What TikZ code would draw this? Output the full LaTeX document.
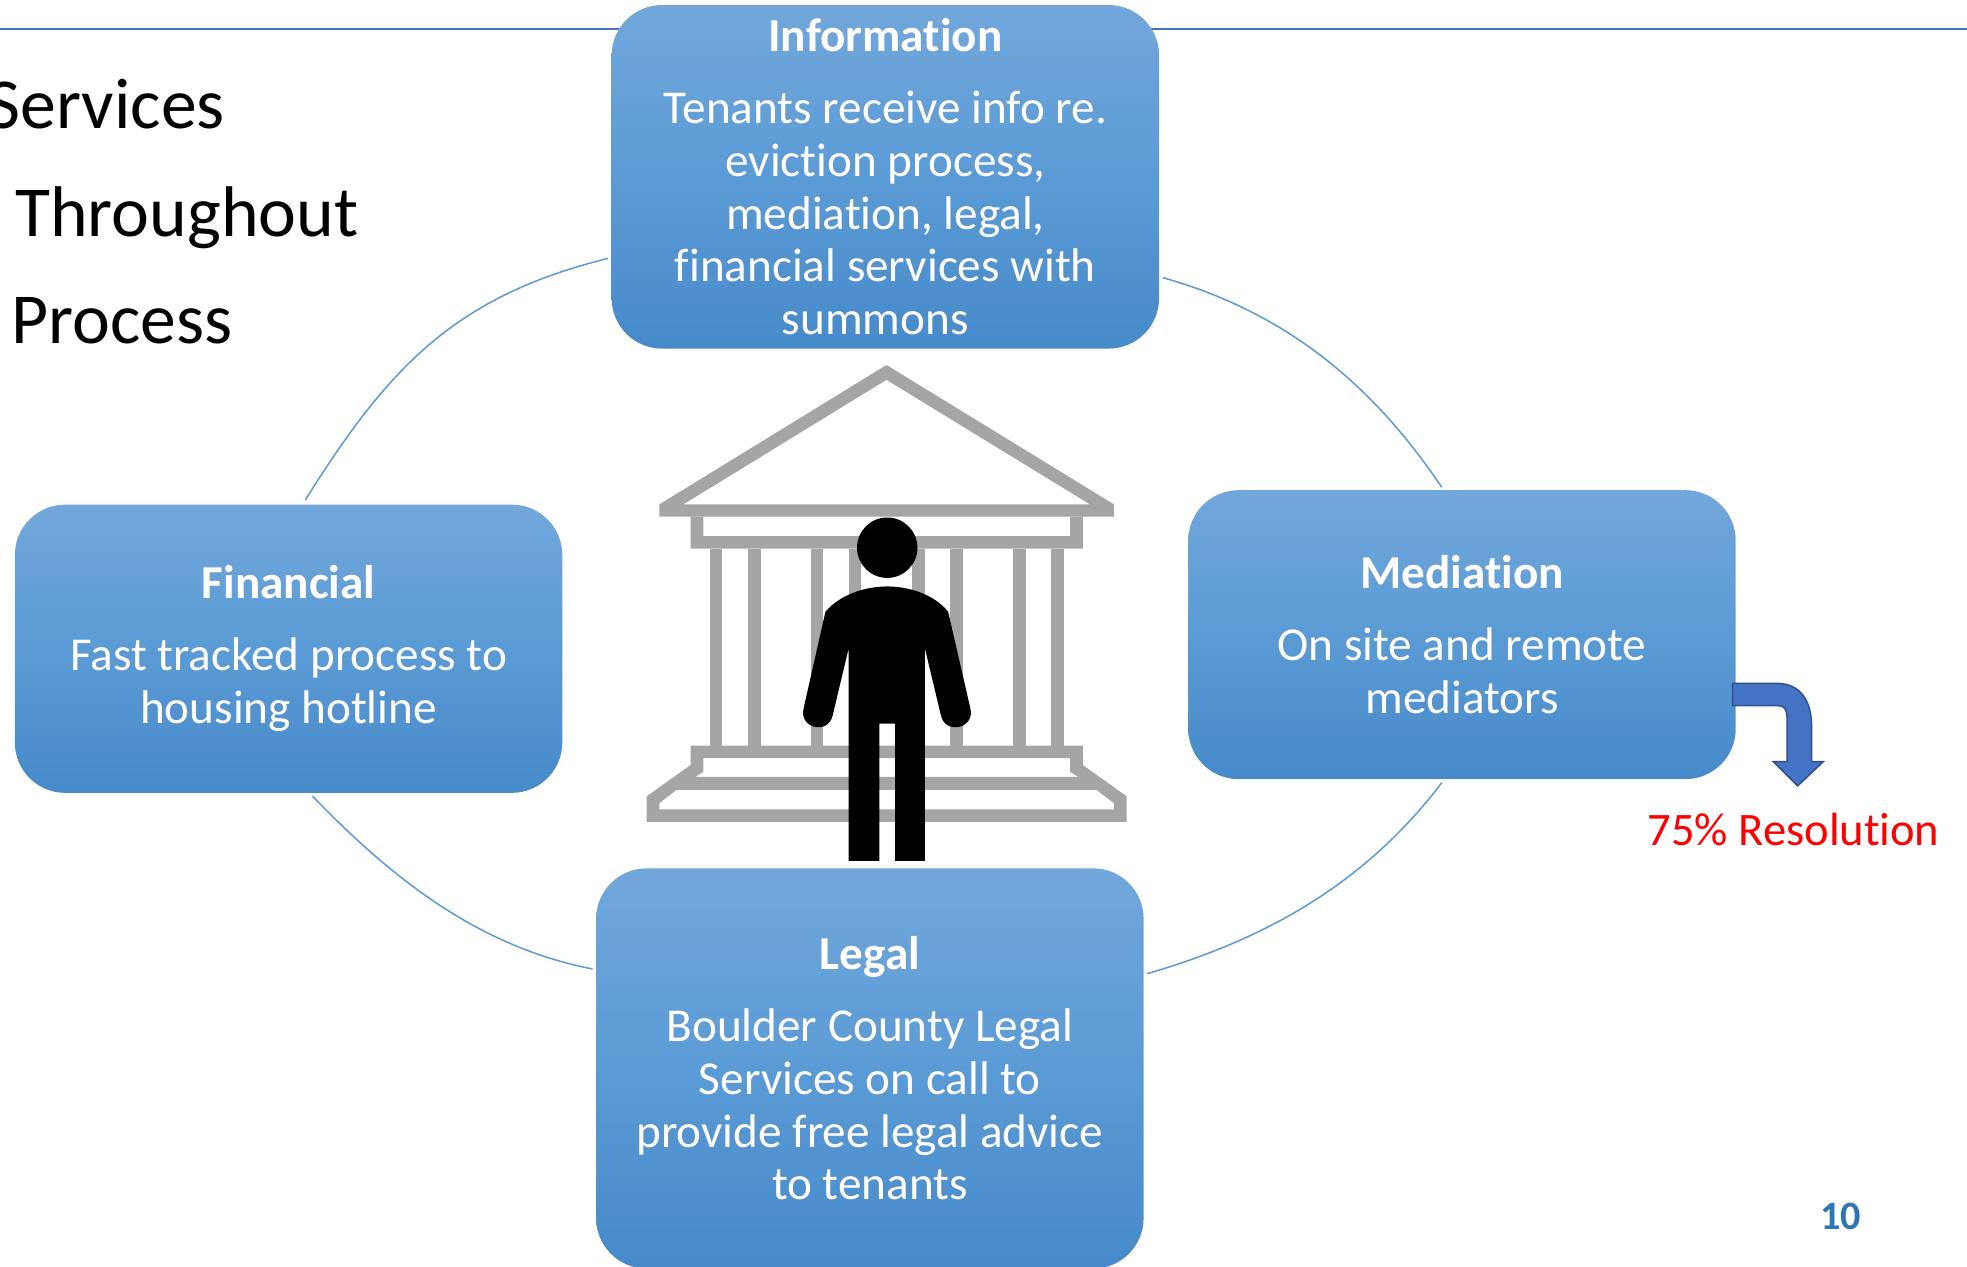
\documentclass[tikz,border=0pt]{standalone}
\usepackage{fontspec}
\setmainfont{Carlito}[Ligatures={NoCommon,NoContextual}]
\definecolor{boxtop}{RGB}{114,167,219}
\definecolor{boxmid}{RGB}{91,155,213}
\definecolor{boxbot}{RGB}{71,138,201}
\definecolor{ringblue}{RGB}{91,155,213}
\definecolor{ruleblue}{RGB}{68,114,196}
\definecolor{bldgray}{RGB}{165,165,165}
\definecolor{arrowfill}{RGB}{68,114,196}
\definecolor{arrowedge}{RGB}{47,82,143}
\definecolor{pageblue}{RGB}{46,117,182}
\begin{document}
\begin{tikzpicture}[x=1pt,y=-1pt,
  card/.style={rounded corners=40pt, top color=boxtop, bottom color=boxbot, middle color=boxmid,
    draw=none, text=white, align=center, inner sep=0pt, minimum width=435pt,
    font=\fontsize{37.5}{42}\selectfont},
  ring/.style={draw=ringblue, line width=1.2pt},
  sidetext/.style={anchor=base west, inner sep=0pt, font=\fontsize{57}{68}\selectfont},
  bld/.style={fill=bldgray, even odd rule},
]
\path[use as bounding box, clip] (0,0) rectangle (1563,1006);

% top rule
\coordinate (ruleL) at (0,23);
\coordinate (ruleR) at (1563,23);
\draw[ruleblue, line width=2.2pt] (ruleL) -- (ruleR);

% ring arcs
\coordinate (a1s) at (242.6,397.3);
\coordinate (a1e) at (483.2,205.3);
\coordinate (a2s) at (923.9,220.6);
\coordinate (a2e) at (1145.6,387.2);
\coordinate (a3s) at (1145.7,621.9);
\coordinate (a3e) at (911.5,773.7);
\coordinate (a4s) at (248.2,632.5);
\coordinate (a4e) at (470.9,770);
\draw[ring] (a1s) .. controls (308.9,291.3) and (361.9,235.3) .. (a1e);
\draw[ring] (a2s) .. controls (1020.2,247.6) and (1089.9,304.2) .. (a2e);
\draw[ring] (a3s) .. controls (1085.1,701.4) and (1007.5,745.8) .. (a3e);
\draw[ring] (a4s) .. controls (312,698.7) and (380.6,752.3) .. (a4e);

% boxes
\node[card, minimum height=273pt] (info) at (703.5,140.5)
  {\textbf{Information}\\[15pt]Tenants receive info re.\\eviction process,\\mediation, legal,\\financial services with\\summons\hspace*{16pt}};
\node[card, minimum height=229pt] (fin) at (229.3,515.5)
  {\textbf{Financial}\\[15pt]Fast tracked process to\\housing hotline};
\node[card, minimum height=229.6pt] (med) at (1161.7,504.3)
  {\textbf{Mediation}\\[15pt]On site and remote\\mediators};
\node[card, minimum height=318pt] (legal) at (691.2,849)
  {\textbf{Legal}\\[15pt]Boulder County Legal\\Services on call to\\provide free legal advice\\to tenants};

% building
\fill[bld] (704.4,290) -- (885.2,400.8) -- (885.2,410.5) -- (523.9,410.5) -- (523.9,400.8) -- cycle
  (704.4,301.8) -- (866.1,400.8) -- (543.0,400.8) -- cycle;
\fill[bld] (548.7,410.5) rectangle (860.4,436.0) (558.9,410.5) rectangle (850.4,426.1);
\foreach \cx in {563.8,594.3,644.2,674.4,724.9,754.9,805.3,835.3}
  \fill[bldgray] (\cx,436) rectangle ++(10,156.5);
\fill[bld] (548.7,592.5) -- (860.4,592.5) -- (860.4,607.9) -- (895.2,632.7) -- (895.2,653.0)
  -- (513.9,653.0) -- (513.9,632.7) -- (548.7,607.9) -- cycle
  (558.9,602.4) -- (850.4,602.4) -- (850.4,613.4) -- (856.7,617.3) -- (552.4,617.3) -- (558.9,613.4) -- cycle
  (537.5,627.7) -- (871.2,627.7) -- (885.2,638.2) -- (885.2,643.1) -- (523.9,643.1) -- (523.9,638.2) -- cycle;

% person
\fill[black] (674.4,684.1) -- (674.4,515) -- (661.6,568.6)
  .. controls (657.9,584.2) and (634.8,578.7) .. (638.5,563.1)
  -- (655.9,486.1) .. controls (668,472) and (688,466) .. (705,466)
  .. controls (722,466) and (742,472) .. (753.4,486.1)
  -- (771.1,563.1) .. controls (774.8,578.7) and (751.4,584.2) .. (747.7,568.6)
  -- (734.9,515) -- (734.9,684.1) -- (711.2,684.1) -- (711.2,574.9) -- (698.7,574.9)
  -- (698.7,684.1) -- cycle;
\fill[black] (705,435.2) circle (24pt);

% bent arrow
\filldraw[fill=arrowfill, draw=arrowedge, line width=1.2pt]
  (1376.8,543) -- (1411.7,543) .. controls (1430,543) and (1439.5,556) .. (1439.5,577.4)
  -- (1439.5,605.2) -- (1448.8,605.2) -- (1428.4,624.5) -- (1409.1,605.2) -- (1420,605.2)
  -- (1420,570.8) .. controls (1420,564) and (1418,560.7) .. (1413,560.7) -- (1376.8,560.7) -- cycle;

% texts
\node[sidetext] (svc) at (-10,102) {Services};
\node[sidetext] (thr) at (12,188) {Throughout};
\node[sidetext] (proc) at (9,273) {Process};
\node[anchor=base west, inner sep=0pt, text=red, font=\fontsize{37}{44}\selectfont] (res) at (1309,672) {75\% Resolution};
\node[anchor=base west, inner sep=0pt, text=pageblue, font=\fontsize{32}{38}\selectfont\bfseries] (pg) at (1446,976.6) {10};
\end{tikzpicture}
\end{document}
